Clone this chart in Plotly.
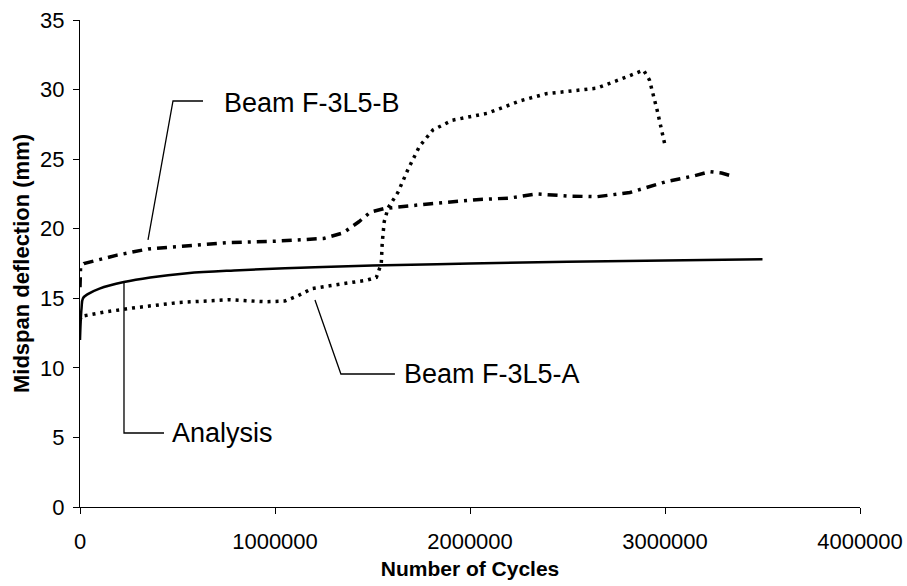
import plotly.graph_objects as go

# ---- data ----
analysis_x = [0, 3000, 8000, 15000, 40000, 100000, 225000, 360000, 550000, 790000,
              1130000, 1500000, 2000000, 2500000, 3000000, 3500000]
analysis_y = [12.0, 13.2, 14.3, 15.0, 15.3, 15.7, 16.17, 16.5, 16.8, 17.0,
              17.2, 17.35, 17.5, 17.62, 17.72, 17.8]

beam_a_x = [0, 5000, 120000, 270000, 510000, 770000, 950000, 1050000, 1120000, 1190000,
            1280000, 1370000, 1470000, 1520000, 1545000, 1550000, 1560000, 1580000,
            1630000, 1680000, 1740000, 1810000, 1910000, 2090000, 2260000, 2390000,
            2650000, 2820000, 2890000, 2920000, 2960000, 3000000]
beam_a_y = [13.4, 13.7, 14.0, 14.3, 14.7, 14.9, 14.75, 14.8, 15.2, 15.7,
            15.9, 16.1, 16.3, 16.5, 17.5, 19.0, 20.5, 21.5,
            22.6, 24.2, 25.9, 27.1, 27.8, 28.3, 29.2, 29.7,
            30.1, 31.0, 31.4, 30.7, 28.5, 26.0]

beam_b_x = [0, 3000, 20000, 87000, 190000, 350000, 580000, 750000, 1000000, 1250000,
            1350000, 1430000, 1490000, 1560000, 1800000, 2050000, 2200000, 2340000,
            2500000, 2650000, 2820000, 3010000, 3150000, 3230000, 3290000, 3340000]
beam_b_y = [15.8, 17.3, 17.5, 17.75, 18.1, 18.55, 18.8, 19.0, 19.1, 19.3,
            19.7, 20.5, 21.2, 21.45, 21.8, 22.1, 22.2, 22.5,
            22.35, 22.3, 22.6, 23.4, 23.8, 24.1, 24.0, 23.8]

x_ticks = [0, 1000000, 2000000, 3000000, 4000000]
x_tick_labels = ["0", "1000000", "2000000", "3000000", "4000000"]
y_ticks = [0, 5, 10, 15, 20, 25, 30, 35]

# label texts and leader-line vertices (data coordinates)
labels = ["Beam F-3L5-B", "Analysis", "Beam F-3L5-A"]
label_pos = [(728000, 29.05), (461000, 5.3), (1651000, 9.56)]
leaders = [
    [(348700, 19.2), (476900, 29.18), (630800, 29.18)],
    [(225600, 16.17), (225600, 5.32), (430800, 5.32)],
    [(1205000, 14.88), (1338000, 9.56), (1615000, 9.56)],
]

FONT = "Liberation Sans, Arial, sans-serif"

fig = go.Figure()
fig.add_trace(go.Scatter(x=analysis_x, y=analysis_y, mode="lines", name="Analysis",
                         line=dict(color="black", width=2.5), line_shape="spline"))
fig.add_trace(go.Scatter(x=beam_a_x, y=beam_a_y, mode="lines", name="Beam F-3L5-A",
                         line=dict(color="black", width=3.5, dash="3px,5px")))
fig.add_trace(go.Scatter(x=beam_b_x, y=beam_b_y, mode="lines", name="Beam F-3L5-B",
                         line=dict(color="black", width=3.5, dash="10px,6px,3px,6px")))

for pts in leaders:
    path = "M " + " L ".join(f"{px},{py}" for px, py in pts)
    fig.add_shape(type="path", path=path, xref="x", yref="y",
                  line=dict(color="black", width=1.3))

for txt, (tx, ty) in zip(labels, label_pos):
    fig.add_annotation(x=tx, y=ty, text=txt, showarrow=False, xanchor="left",
                       yanchor="middle", font=dict(family=FONT, size=27, color="black"))

fig.update_layout(
    width=907, height=586,
    margin=dict(l=80, r=47, t=20, b=79),
    plot_bgcolor="white", paper_bgcolor="white",
    showlegend=False,
    font=dict(family=FONT, color="black"),
)
fig.update_xaxes(range=[0, 4000000], tickvals=x_ticks, ticktext=x_tick_labels,
                 showgrid=False, zeroline=False, showline=True, linecolor="black",
                 linewidth=1.2, ticks="outside", ticklen=6, tickcolor="black",
                 tickfont=dict(family=FONT, size=22), ticklabelstandoff=8,
                 automargin=False,
                 title=dict(text="<b>Number of Cycles</b>", font=dict(family=FONT, size=21),
                            standoff=8))
fig.update_yaxes(range=[0, 35], tickvals=y_ticks,
                 showgrid=False, zeroline=False, showline=True, linecolor="black",
                 linewidth=1.2, ticks="outside", ticklen=6, tickcolor="black",
                 tickfont=dict(family=FONT, size=22), ticklabelstandoff=4,
                 automargin=False,
                 title=dict(text="<b>Midspan deflection (mm)</b>", font=dict(family=FONT, size=22),
                            standoff=4))

fig.write_html("out.html", config={"displayModeBar": False},
               post_script="document.body.style.margin='0';document.body.style.overflow='hidden';")
